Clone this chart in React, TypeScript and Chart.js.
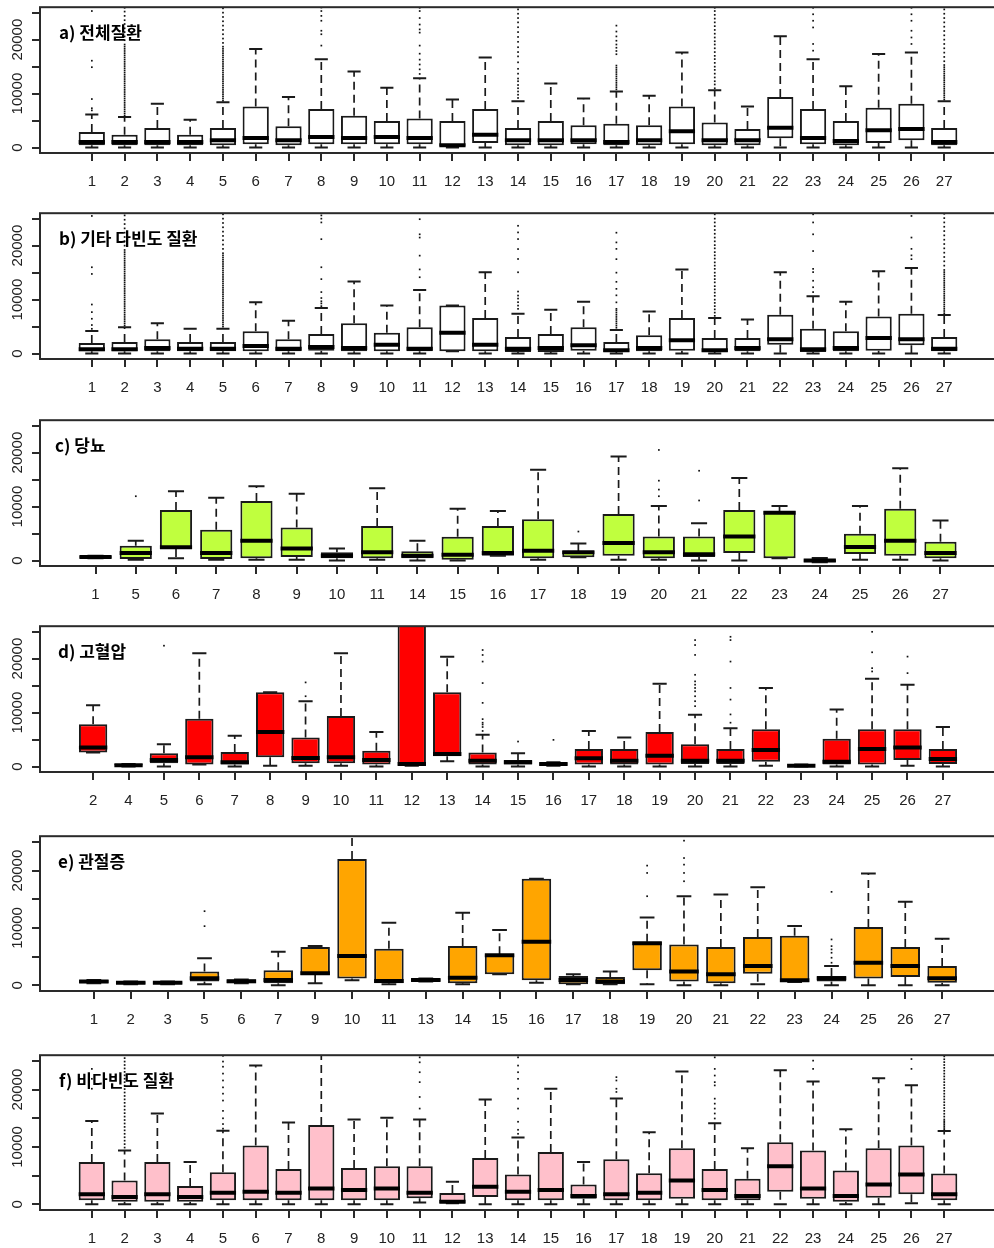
import React, { useEffect, useRef } from "react";
import { Chart, registerables } from "chart.js";
Chart.register(...registerables);

// ---------- panel a) 전체질환 ----------
const aCats = [1,2,3,4,5,6,7,8,9,10,11,12,13,14,15,16,17,18,19,20,21,22,23,24,25,26,27];
const aQ1 = [430,430,430,430,430,615,430,615,615,615,615,250,860,430,430,615,430,430,615,430,430,1720,615,430,860,1350,430];
const aMed = [1050,1050,1050,1050,1350,1780,1350,1970,1780,1970,1780,430,2400,1350,1350,1350,1050,1350,3010,1350,1350,3690,1780,1230,3200,3440,1050];
const aQ3 = [2890,2400,3630,2400,3630,7630,3940,7130,5900,4920,5400,4920,7130,3630,4920,4120,4430,4120,7630,4670,3440,9350,7130,4920,7380,8100,3630];
const aLo = [0,0,0,0,0,0,0,0,0,0,0,0,0,0,0,0,0,0,0,0,0,0,0,0,0,0,0];
const aHi = [6150,5650,8100,5150,8400,18270,9350,16360,14080,11070,12850,8900,16700,8600,11870,9100,10400,9600,17590,10640,7630,20600,16360,11380,17340,17590,8600];
const aOut = [
  [6900,7300,9000,14900,16100,25300],
  [5900,6300,6700,7100,7500,7900,8300,8700,9100,9500,9900,10300,10700,11100,11500,11900,12300,12700,13100,13500,13900,14300,14700,15100,15500,15900,16300,16700,17100,17500,17900,18300,18700,19100,19900,20600,21400,22100,22900,23600,24400,25200,25900],
  [], [],
  [8700,9100,9500,9900,10300,10700,11100,11500,11900,12300,12700,13100,13500,13900,14300,14700,15100,15500,15900,16300,16700,17100,17500,17900,18300,18700,19400,20200,21000,21800,22600,23400,24200,25000,25800],
  [], [],
  [18900,21000,21650,23500,24400,25300,25950],
  [], [],
  [13650,14500,15400,16300,17400,18900,21300,21900,22800,24000,25300,25900],
  [], [],
  [9200,9800,10400,11000,11600,12300,12800,13700,14600,15800,16900,17700,18600,19600,20500,21400,22300,23200,24000,24800,25600],
  [], [],
  [10800,11200,11600,12000,12400,12800,13200,13600,14000,14400,14800,15200,17300,17900,18500,19100,19800,20600,21500,22600],
  [], [],
  [11000,11700,12300,13000,13700,14400,15000,15700,16400,17000,17700,18400,19100,19700,20400,21100,21800,22500,23200,23900,24600,25300,25900],
  [], [],
  [17960,19200,22260,23500,24700,25900],
  [], [],
  [19200,20400,21650,23500,24700,25900],
  [8900,9300,9700,10100,10500,10900,11300,11700,12100,12500,12900,13300,13700,14100,14500,14900,15300,16000,16800,17600,18400,19200,20000,20800,21600,22400,23200,24000,24800,25600],
];

// ---------- panel b) 기타 다빈도 질환 ----------
const bCats = [1,2,3,4,5,6,7,8,9,10,11,12,13,14,15,16,17,18,19,20,21,22,23,24,25,26,27];
const bQ1 = [430,430,430,430,430,430,430,550,430,430,430,430,430,310,310,550,310,430,550,310,430,1660,310,430,550,1540,430];
const bMed = [800,800,1050,920,920,1410,920,1230,1050,1660,920,3870,1660,920,1050,1540,620,1050,2460,620,1050,2640,800,1050,2890,2640,920];
const bQ3 = [1970,2150,2640,2150,2150,4120,2640,3630,5600,3870,4860,8920,6580,3075,3630,4860,2150,3380,6580,2890,2890,7200,4610,4120,6890,7380,3075];
const bLo = [0,0,0,0,0,0,0,0,0,0,0,430,0,0,0,0,0,0,0,0,0,0,0,0,0,0,0];
const bHi = [4180,4860,5600,4610,4610,9530,6090,8430,13350,8920,11800,8920,15070,7380,8120,9600,4370,7810,15560,6580,6330,15070,10640,9600,15250,15870,7130];
const bOut = [
  [4600,5300,6460,7690,9100,14760,16000,25500],
  [5200,5600,6000,6400,6800,7200,7600,8000,8400,8800,9200,9600,10000,10400,10800,11200,11600,12000,12400,12800,13200,13600,14000,14400,14800,15200,15600,16000,16400,16800,17200,17600,18000,18400,18800,19200,20000,20800,21600,22400,23200,24000,24800,25600],
  [], [],
  [5000,5400,5800,6200,6600,7000,7400,7800,8200,8600,9000,9400,9800,10200,10600,11000,11400,11800,12200,12600,13000,13400,13800,14200,14600,15000,15400,15800,16200,16600,17000,17400,17800,18200,18600,19400,20200,21000,21800,22600,23400,24200,25000,25800],
  [], [],
  [8800,9300,9700,10300,11400,13800,16000,21200,24300,25000,25600],
  [], [],
  [14150,15600,18150,21500,22100,24900],
  [], [],
  [8300,8900,9530,10200,10760,11500,15070,17530,19370,21220,22450,23680],
  [], [],
  [4800,5200,5600,6000,6400,6800,7200,7600,8000,8300,9500,10800,12000,13300,15000,17500,19400,20600,22400],
  [], [],
  [7000,7600,8200,8800,9400,10000,10700,11300,11900,12500,13200,13800,14400,15000,15700,16300,16900,17600,18200,18800,19500,20100,20800,21500,22200,22900,23600,24300,25000,25800],
  [], [],
  [11400,12300,13500,15100,15700,19000,22100,24300,25800],
  [], [],
  [17500,18200,19400,21500,25500],
  [7500,7900,8300,8700,9100,9500,9900,10300,10700,11100,11500,11900,12300,12700,13100,13500,13900,14300,14700,15100,15500,16300,17100,17900,18700,19500,20300,21100,21900,22700,23500,24300,25100,25900],
];

// ---------- panel c) 당뇨 ----------
const cCats = [1,5,6,7,8,9,10,11,14,15,16,17,18,19,20,21,22,23,24,25,26,27];
const cQ1 = [430,310,2140,310,430,670,430,430,430,180,920,430,610,920,430,670,1410,430,-300,1220,920,430];
const cMed = [670,1410,2450,1410,3670,2260,920,1530,920,1100,1410,1840,1530,3240,1530,1160,4470,8870,0,2510,3670,1410];
const cQ3 = [920,2750,9360,5690,11020,6120,1530,6430,1710,4410,6430,7650,1770,8630,4470,4470,9360,9180,250,4960,9610,3490];
const cLo = [430,180,430,180,180,180,0,180,0,0,920,180,610,180,180,0,0,430,-300,180,180,0];
const cHi = [920,3670,12850,11630,13770,12360,2260,13400,3670,9610,9180,16830,3180,19280,10100,6920,15300,10100,500,10100,17080,7410];
const cOut = [
  [], [11930], [], [], [], [], [], [], [], [], [], [],
  [5390], [],
  [11930,13160,14810,20500],
  [11140,16650],
  [], [], [], [], [], [],
];

// ---------- panel d) 고혈압 ----------
const dCats = [2,4,5,6,7,8,9,10,11,12,13,14,15,16,17,18,19,20,21,22,23,24,25,26,27];
const dQ1 = [2630,0,610,370,370,1710,610,610,370,180,1900,370,370,180,370,370,370,490,490,920,0,370,370,1220,490];
const dMed = [3550,245,1220,1710,800,6430,1590,1710,1220,490,2330,1100,800,490,1530,1100,2020,1100,1100,3060,180,920,3240,3550,1410];
const dQ3 = [7830,490,2450,8870,2690,13770,5390,9360,2940,30000,13770,2630,1220,800,3240,3240,6430,4160,3240,6920,370,5140,6920,6920,3240];
const dLo = [2630,0,0,370,0,180,180,180,0,180,980,0,0,180,0,0,0,0,0,180,0,0,0,180,0];
const dHi = [11380,490,4160,20990,5690,13770,12120,20990,6430,30000,20320,5880,2450,800,6610,5390,15360,9610,7100,14570,370,10590,16280,15180,7340];
const dOut = [
  [], [], [22400], [], [], [],
  [13040,15600],
  [], [], [], [],
  [6610,7340,7800,8140,8800,11810,15480,19460,20680,21600],
  [4650], [4960], [], [], [],
  [11200,12120,13040,13950,14570,15180,15790,17010,20690,22520,23440],
  [8140,9670,12420,14570,19460,23440,24050],
  [], [], [],
  [17630,18240,21180,24970],
  [17320,20380],
  [],
];

// ---------- panel e) 관절증 ----------
const eCats = [1,2,3,5,6,7,9,10,11,13,14,15,16,17,18,19,20,21,22,23,24,25,26,27];
const eQ1 = [350,170,170,640,350,350,1800,1160,350,640,350,1910,870,170,170,2610,640,350,2030,580,640,1160,1450,460];
const eMed = [640,460,460,1220,700,930,2090,5100,750,930,1330,5220,7600,930,640,7310,2380,1910,3360,870,1220,3940,3360,1220];
const eQ3 = [930,640,640,2380,990,2610,6670,22040,6380,1160,6840,5390,18560,1620,1450,7600,7130,6670,8410,8640,1620,10150,6670,3360];
const eLo = [350,170,170,170,350,0,350,870,170,640,170,1910,460,170,170,170,0,0,170,580,0,0,0,0];
const eHi = [930,640,640,4700,990,5860,6840,26500,10900,1160,12640,9630,18560,1910,2380,11830,15540,15830,17110,10320,3360,19490,14560,8120];
const eOut = [
  [], [], [],
  [10320,12930],
  [], [], [], [], [], [], [], [], [], [], [],
  [15540,19600,20880],
  [18150,19600,21050,22200,25230],
  [], [], [],
  [3940,4810,5680,6260,6840,8000,16300],
  [], [], [],
];

// ---------- panel f) 비다빈도 질환 ----------
const fCats = [1,2,3,4,5,6,7,8,9,10,11,12,13,14,15,16,17,18,19,20,21,22,23,24,25,26,27];
const fQ1 = [690,460,460,460,690,690,690,690,690,690,1040,170,1270,690,690,980,690,690,980,690,690,2190,980,460,1150,1730,690];
const fMed = [1730,1270,1730,1270,2020,2190,2020,2760,2480,2760,2020,460,3050,2190,2480,1440,1730,2020,4150,2480,1440,6620,2760,1440,3460,5180,1730];
const fQ3 = [7370,4150,7370,3170,5590,10250,6160,13820,6340,6620,6620,1960,8060,5180,9100,3460,7830,5410,9790,6160,4440,10830,9390,5880,9790,10250,5360];
const fLo = [0,0,0,0,0,0,0,0,0,0,290,170,0,0,0,0,0,0,0,0,0,0,0,0,0,170,0];
const fHi = [14520,9390,15840,7370,12840,24190,14280,26500,14800,15090,14800,3920,18260,11640,20160,7370,18430,12560,23160,14110,9790,23390,21430,13080,22000,20740,12790];
const fOut = [
  [20160,21890,23620],
  [9900,10500,11100,11700,12300,12900,13500,14100,14700,15300,15900,16500,17100,17700,18300,18900,19500,20100,20700,21300,21900,22500,23100,23700,24300,24900,25500],
  [], [],
  [13200,14000,15000,16300,18100,19300,20400,21600,22800,24000,24900,25900],
  [], [], [], [], [],
  [16700,18720,21310,23040,24770,25630],
  [], [],
  [12300,13000,14400,16700,18430,20160,21890,23040,24200,25630],
  [], [],
  [19600,20160,21600,22180],
  [], [],
  [14970,15840,16700,17560,18430,20740,21310,22460,23620,25630],
  [], [],
  [23620,25060],
  [], [],
  [23620,25340],
  [13000,13300,13600,13900,14200,14500,14800,15300,15800,16300,16800,17300,17800,18300,18800,19300,19800,20300,20800,21300,21800,22300,22800,23300,23800,24300,24800,25300,25800],
];

const titles = ["a) 전체질환", "b) 기타 다빈도 질환", "c) 당뇨", "d) 고혈압", "e) 관절증", "f) 비다빈도 질환"];
const yTicks = [0, 5000, 10000, 15000, 20000, 25000];
const yLabelValues = [0, 10000, 20000];
const Y_MIN = -1000;
const Y_MAX = 26000;

type Panel = {
  title: string; cats: number[]; q1: number[]; med: number[]; q3: number[];
  lo: number[]; hi: number[]; out: number[][]; fill: string;
  top: number; h: number; tx: number;
};

const PANELS: Panel[] = [
  { title: titles[0], cats: aCats, q1: aQ1, med: aMed, q3: aQ3, lo: aLo, hi: aHi, out: aOut, fill: "#ffffff", top: 6, h: 146.7, tx: 59 },
  { title: titles[1], cats: bCats, q1: bQ1, med: bMed, q3: bQ3, lo: bLo, hi: bHi, out: bOut, fill: "#ffffff", top: 212, h: 147, tx: 59 },
  { title: titles[2], cats: cCats, q1: cQ1, med: cMed, q3: cQ3, lo: cLo, hi: cHi, out: cOut, fill: "#c0ff3e", top: 419, h: 146.7, tx: 55 },
  { title: titles[3], cats: dCats, q1: dQ1, med: dMed, q3: dQ3, lo: dLo, hi: dHi, out: dOut, fill: "#ff0000", top: 625, h: 146.7, tx: 58 },
  { title: titles[4], cats: eCats, q1: eQ1, med: eMed, q3: eQ3, lo: eLo, hi: eHi, out: eOut, fill: "#ffa500", top: 834.7, h: 156, tx: 58 },
  { title: titles[5], cats: fCats, q1: fQ1, med: fMed, q3: fQ3, lo: fLo, hi: fHi, out: fOut, fill: "#ffc0cb", top: 1054, h: 156, tx: 59 },
];

const PAD_TOP = 6;
const X_AXIS_H = 44;
const CANVAS_W = 1000;

function PanelChart({ p }: { p: Panel }) {
  const ref = useRef<HTMLCanvasElement>(null);
  const H = Math.round(PAD_TOP + p.h + X_AXIS_H);
  useEffect(() => {
    if (!ref.current) return;
    const n = p.cats.length;
    const boxPlugin = {
      id: "boxplotExtras",
      afterDatasetsDraw(chart: any) {
        const { ctx, chartArea: ca, scales } = chart;
        const xs = scales.x;
        const ys = scales.y;
        const unit = xs.getPixelForValue(1) - xs.getPixelForValue(0);
        const boxHalf = unit * 0.4;
        const capHalf = unit * 0.2;
        ctx.save();
        ctx.beginPath();
        ctx.rect(ca.left, ca.top, ca.right - ca.left, ca.bottom - ca.top);
        ctx.clip();
        for (let i = 0; i < n; i++) {
          const x = xs.getPixelForValue(i);
          const yq1 = ys.getPixelForValue(p.q1[i]);
          const yq3 = ys.getPixelForValue(p.q3[i]);
          const ylo = ys.getPixelForValue(p.lo[i]);
          const yhi = ys.getPixelForValue(p.hi[i]);
          const ymed = ys.getPixelForValue(p.med[i]);
          ctx.strokeStyle = "#1a1a1a";
          // whiskers (dashed)
          ctx.lineWidth = 1.7;
          ctx.setLineDash([8, 5]);
          if (p.hi[i] > p.q3[i]) {
            ctx.beginPath(); ctx.moveTo(x, yq3); ctx.lineTo(x, yhi); ctx.stroke();
          }
          if (p.lo[i] < p.q1[i]) {
            ctx.beginPath(); ctx.moveTo(x, yq1); ctx.lineTo(x, ylo); ctx.stroke();
          }
          ctx.setLineDash([]);
          // staples
          ctx.lineWidth = 2;
          ctx.beginPath();
          ctx.moveTo(x - capHalf, yhi); ctx.lineTo(x + capHalf, yhi);
          ctx.moveTo(x - capHalf, ylo); ctx.lineTo(x + capHalf, ylo);
          ctx.stroke();
          // median
          ctx.lineWidth = 4;
          ctx.strokeStyle = "#000";
          ctx.beginPath(); ctx.moveTo(x - boxHalf, ymed); ctx.lineTo(x + boxHalf, ymed); ctx.stroke();
          // outliers
          ctx.fillStyle = "#111";
          for (const v of p.out[i] || []) {
            const yy = ys.getPixelForValue(v);
            ctx.fillRect(x - 0.8, yy - 0.8, 1.7, 1.7);
          }
        }
        ctx.restore();
        // frame
        ctx.save();
        ctx.strokeStyle = "#2a2a2a";
        ctx.lineWidth = 2;
        ctx.strokeRect(ca.left, ca.top, ca.right - ca.left, ca.bottom - ca.top);
        // y labels (rotated)
        ctx.fillStyle = "#222";
        ctx.font = '15px "Liberation Sans", Arial, sans-serif';
        ctx.textAlign = "center";
        ctx.textBaseline = "middle";
        for (const v of yLabelValues) {
          const y = ys.getPixelForValue(v);
          ctx.save();
          ctx.translate(18, y);
          ctx.rotate(-Math.PI / 2);
          ctx.fillText(String(v), 0, 0);
          ctx.restore();
        }
        // title
        ctx.fillStyle = "#000";
        ctx.font = 'bold 17px "Noto Sans CJK KR", sans-serif';
        ctx.textAlign = "left";
        ctx.textBaseline = "middle";
        ctx.fillText(p.title, p.tx, ca.top + 25);
        ctx.restore();
      },
    };

    const chart = new Chart(ref.current, {
      type: "bar",
      data: {
        datasets: [
          {
            data: p.cats.map((c, i) => ({ x: i, y: [p.q1[i], p.q3[i]] })) as any,
            backgroundColor: p.fill,
            borderColor: "#1a1a1a",
            borderWidth: 2,
            borderSkipped: false,
            barPercentage: 0.8,
            categoryPercentage: 1,
          },
        ],
      },
      options: {
        animation: false,
        responsive: false,
        maintainAspectRatio: false,
        layout: { padding: { top: PAD_TOP, right: 4, left: 0, bottom: 0 } },
        plugins: { legend: { display: false }, tooltip: { enabled: false } },
        scales: {
          x: {
            type: "linear",
            offset: false,
            min: -0.5 - 0.04 * n,
            max: n - 0.5 + 0.04 * n,
            afterBuildTicks: (s: any) => {
              s.ticks = p.cats.map((c, i) => ({ value: i }));
            },
            afterFit: (s: any) => { s.height = X_AXIS_H; },
            ticks: {
              autoSkip: false,
              maxRotation: 0,
              minRotation: 0,
              padding: 12,
              color: "#222",
              font: { size: 15, family: '"Liberation Sans", Arial, sans-serif' },
              callback: (v: any) => {
                const idx = Math.round(Number(v));
                return p.cats[idx] !== undefined ? String(p.cats[idx]) : "";
              },
            },
            grid: { offset: false, drawOnChartArea: false, drawTicks: true, tickLength: 8, color: "#2a2a2a", lineWidth: 2 },
            border: { display: false },
          } as any,
          y: {
            type: "linear",
            min: Y_MIN,
            max: Y_MAX,
            afterBuildTicks: (s: any) => {
              s.ticks = yTicks.map((v) => ({ value: v }));
            },
            afterFit: (s: any) => { s.width = 40; },
            ticks: { callback: () => "", padding: 0 },
            grid: { drawOnChartArea: false, drawTicks: true, tickLength: 8, color: "#2a2a2a", lineWidth: 2 },
            border: { display: false },
          } as any,
        },
      },
      plugins: [boxPlugin],
    });
    return () => chart.destroy();
  }, []);
  return (
    <canvas
      ref={ref}
      width={CANVAS_W}
      height={H}
      style={{ position: "absolute", left: 0, top: p.top - PAD_TOP, width: CANVAS_W, height: H }}
    />
  );
}

export default function App() {
  return (
    <div style={{ position: "fixed", left: 0, top: 0, width: 994, height: 1248, overflow: "hidden", background: "#fff" }}>
      {PANELS.map((p, i) => (
        <PanelChart key={i} p={p} />
      ))}
    </div>
  );
}
